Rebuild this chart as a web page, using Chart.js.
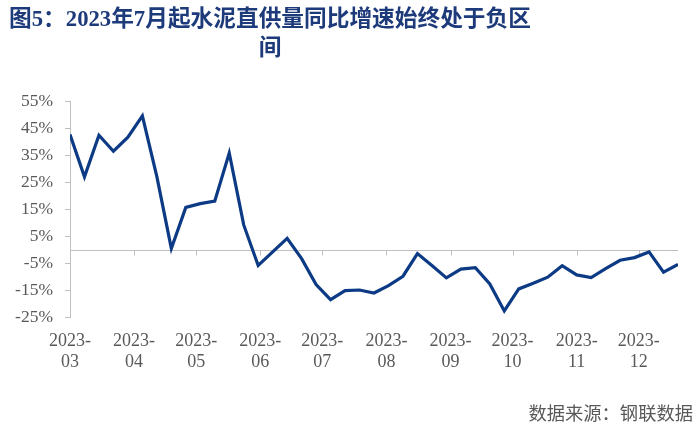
<!DOCTYPE html>
<html>
<head>
<meta charset="utf-8">
<script src="https://cdn.jsdelivr.net/npm/chart.js@4"></script>
<style>
  html, body { margin: 0; padding: 0; background: #fff; }
  #wrap { position: relative; width: 700px; height: 428px; }
  #myChart { position: absolute; left: 0; top: 0; }
  #title {
    position: absolute; left: 4px; top: 4px; width: 532px;
    text-align: center; color: #1d3a7a;
    font: bold 22.7px/29px "Liberation Serif", "Noto Sans CJK SC", serif;
  }
  #source {
    position: absolute; right: 7px; top: 399px;
    color: #595959; font: 18.3px "Noto Sans CJK SC", sans-serif;
  }
</style>
</head>
<body>
<div id="wrap">
  <canvas id="myChart" width="700" height="428"></canvas>
  <div id="title">图5：2023年7月起水泥直供量同比增速始终处于负区<br>间</div>
  <div id="source">数据来源：钢联数据</div>
</div>
<script>
// weekly observations
var weekDates = [
	'2023-03-01', '2023-03-08', '2023-03-15', '2023-03-22', '2023-03-29',
	'2023-04-05', '2023-04-12', '2023-04-19', '2023-04-26',
	'2023-05-03', '2023-05-10', '2023-05-17', '2023-05-24', '2023-05-31',
	'2023-06-07', '2023-06-14', '2023-06-21', '2023-06-28',
	'2023-07-05', '2023-07-12', '2023-07-19', '2023-07-26',
	'2023-08-02', '2023-08-09', '2023-08-16', '2023-08-23', '2023-08-30',
	'2023-09-06', '2023-09-13', '2023-09-20', '2023-09-27',
	'2023-10-04', '2023-10-11', '2023-10-18', '2023-10-25',
	'2023-11-01', '2023-11-08', '2023-11-15', '2023-11-22', '2023-11-29',
	'2023-12-06', '2023-12-13', '2023-12-20'
];
// 水泥直供量同比 (%)
var yoyGrowth = [
	42.6, 26.9, 42.3, 36.4, 41.6,
	49.5, 27, 0.4, 15.6,
	17, 17.9, 35.75, 9.1, -5.9,
	-0.9, 4.1, -3.4, -13,
	-18.6, -15.25, -15, -16.1,
	-13.4, -9.9, -1.5, -5.9, -10.5,
	-7.25, -6.75, -12.75, -22.75,
	-14.6, -12.5, -10.25, -6,
	-9.4, -10.4, -7.1, -4, -3,
	-0.9, -8.4, -5.5
];
var monthTicks = ['2023-03-01', '2023-04-01', '2023-05-01', '2023-06-01', '2023-07-01',
	'2023-08-01', '2023-09-01', '2023-10-01', '2023-11-01', '2023-12-01'];
var monthLabels = ['03', '04', '05', '06', '07', '08', '09', '10', '11', '12'];
var yTicks = [-25, -15, -5, 5, 15, 25, 35, 45, 55];

var startMs = Date.parse(weekDates[0]);
function dayOf(d) {
	return (Date.parse(d) - startMs) / 86400000;
}
var monthDays = monthTicks.map(dayOf);
var points = weekDates.map((d, i) => ({ x: dayOf(d), y: yoyGrowth[i] }));

// zero line with month tick marks (axis crosses at 0)
var zeroAxis = {
	id: 'zeroAxis',
	beforeDatasetsDraw(chart) {
		var c = chart.ctx, xs = chart.scales.x, ys = chart.scales.y;
		var y0 = Math.round(ys.getPixelForValue(0)) + 0.5;
		c.save();
		c.strokeStyle = '#bfbfbf';
		c.lineWidth = 1;
		c.beginPath();
		c.moveTo(chart.chartArea.left, y0);
		c.lineTo(chart.chartArea.right, y0);
		monthDays.forEach((v, i) => {
			if (i == 0) return;
			var px = Math.round(xs.getPixelForValue(v)) + 0.5;
			c.moveTo(px, y0);
			c.lineTo(px, y0 + 5);
		});
		c.stroke();
		c.restore();
	}
};

const ctx = document.getElementById('myChart');
new Chart(ctx, {
	type: 'line',
	data: {
		datasets: [{
			data: points,
			borderColor: '#0c3a84',
			borderWidth: 3.2,
			pointRadius: 0,
			tension: 0,
			fill: false
		}]
	},
	options: {
		responsive: false,
		animation: false,
		layout: { padding: { top: 101, right: 22, left: 0, bottom: 0 } },
		plugins: { legend: { display: false }, tooltip: { enabled: false } },
		scales: {
			x: {
				type: 'linear',
				min: 0,
				max: dayOf(weekDates[weekDates.length - 1]),
				afterBuildTicks: (scale) => {
					scale.ticks = monthDays.map((v) => ({ value: v }));
				},
				afterFit: (scale) => { scale.height = 111; },
				grid: { display: false, drawTicks: false },
				border: { display: false },
				ticks: {
					autoSkip: false,
					maxRotation: 0,
					padding: 13,
					color: '#595959',
					font: { family: 'Liberation Serif', size: 18 },
					callback: (v) => {
						var i = monthDays.indexOf(v);
						return i < 0 ? '' : ['2023-', monthLabels[i]];
					}
				}
			},
			y: {
				min: -25,
				max: 55,
				afterBuildTicks: (scale) => {
					scale.ticks = yTicks.map((v) => ({ value: v }));
				},
				afterFit: (scale) => { scale.width = 70; },
				grid: { drawOnChartArea: false, drawTicks: true, tickLength: 5, tickColor: '#bfbfbf' },
				border: { display: true, color: '#bfbfbf' },
				ticks: {
					padding: 12,
					color: '#595959',
					font: { family: 'Liberation Serif', size: 17.5 },
					callback: (v) => v + '%'
				}
			}
		}
	},
	plugins: [zeroAxis]
});
</script>
</body>
</html>
